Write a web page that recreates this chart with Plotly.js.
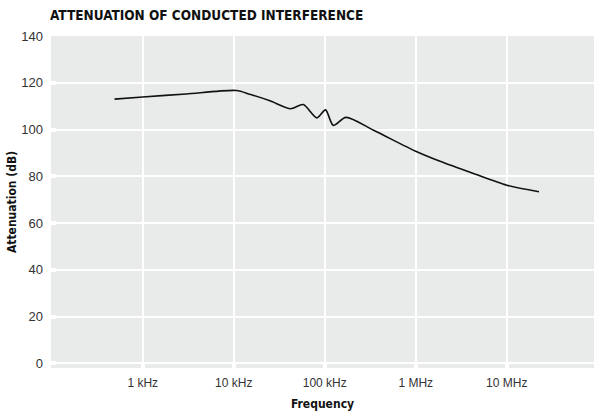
<!DOCTYPE html>
<html>
<head>
<meta charset="utf-8">
<script src="https://cdn.plot.ly/plotly-3.0.1.min.js"></script>
<style>html,body{margin:0;padding:0;background:#fff;}#chart{width:594px;height:413px;}</style>
</head>
<body>
<div id="chart"></div>
<script>
// Frequency (Hz) and attenuation (dB)
const frequencyHz = [490, 1000, 3000, 10700, 15000, 25000, 42300, 58000, 82000, 102000, 124000, 171000, 344000, 1000000, 1850000, 4300000, 10000000, 22600000];
const attenuationDb = [113.0, 113.9, 115.2, 116.7, 115.1, 112.3, 108.9, 110.7, 105.0, 108.4, 101.8, 105.2, 99.7, 90.7, 86.4, 81.2, 76.2, 73.4];

const xTickVals = [1e3, 1e4, 1e5, 1e6, 1e7];
const xTickText = ['1 kHz', '10 kHz', '100 kHz', '1 MHz', '10 MHz'];
const yTickVals = [0, 20, 40, 60, 80, 100, 120, 140];

const chartTitle = 'ATTENUATION OF CONDUCTED INTERFERENCE';
const xTitle = 'Frequency';
const yTitle = 'Attenuation (dB)';

const narrow = "'Liberation Sans Narrow', 'DejaVu Sans Condensed', 'Arial Narrow', sans-serif";
const regular = "'Liberation Sans', Arial, Helvetica, sans-serif";

const trace = {
  x: frequencyHz,
  y: attenuationDb,
  type: 'scatter',
  mode: 'lines',
  line: {color: '#111111', width: 1.6, shape: 'spline', smoothing: 0.75},
  hoverinfo: 'skip'
};

const layout = {
  width: 594,
  height: 413,
  margin: {l: 51, r: 0, t: 36, b: 45},
  paper_bgcolor: '#ffffff',
  plot_bgcolor: '#e9eaea',
  showlegend: false,
  title: {
    text: '<b>' + chartTitle + '</b>',
    font: {family: narrow, size: 13.5, color: '#111111'},
    xref: 'container', yref: 'container',
    x: 50 / 594, xanchor: 'left',
    y: 1 - 15 / 413, yanchor: 'middle'
  },
  xaxis: {
    type: 'log',
    range: [1.992, 7.959],
    tickvals: xTickVals,
    ticktext: xTickText,
    showgrid: true,
    gridcolor: '#ffffff',
    gridwidth: 2,
    zeroline: false,
    showline: false,
    ticks: 'inside',
    ticklen: 5,
    tickwidth: 4,
    tickcolor: '#ffffff',
    ticklabelstandoff: 6,
    tickfont: {family: regular, size: 12, color: '#333333'},
    title: {text: '<b>' + xTitle + '</b>', font: {family: narrow, size: 12, color: '#111111'}, standoff: 10},
    fixedrange: true
  },
  yaxis: {
    range: [-2, 140],
    tickvals: yTickVals,
    showgrid: true,
    gridcolor: '#ffffff',
    gridwidth: 2,
    zeroline: false,
    showline: false,
    ticks: 'inside',
    ticklen: 5,
    tickwidth: 4,
    tickcolor: '#ffffff',
    ticklabelstandoff: 7,
    tickfont: {family: regular, size: 13, color: '#333333'},
    title: {text: '<b>' + yTitle + '</b>', font: {family: narrow, size: 12, color: '#111111'}, standoff: 2},
    fixedrange: true
  }
};

Plotly.newPlot('chart', [trace], layout, {staticPlot: true, displayModeBar: false});
</script>
</body>
</html>
